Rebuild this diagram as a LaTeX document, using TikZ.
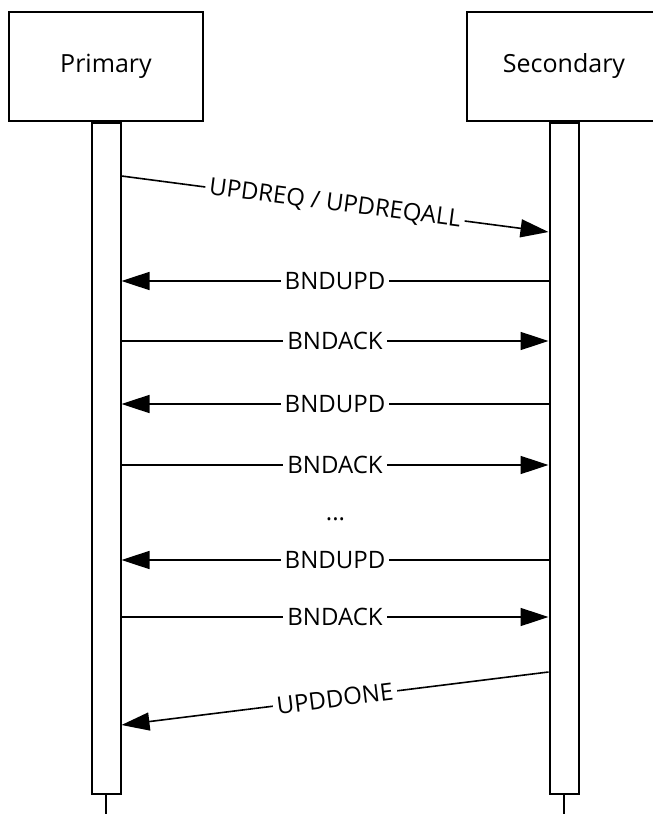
\documentclass[tikz,border=0pt]{standalone}
\usepackage{fontspec}
\setmainfont{Open Sans}
\usetikzlibrary{positioning,arrows.meta}

\begin{document}
\begin{tikzpicture}[
    x=0.5pt, y=-0.5pt,
    actor/.style={rectangle, draw, line width=1pt, minimum width=97pt, minimum height=54.5pt, font=\fontsize{12.5}{14}\selectfont},
    bar/.style={rectangle, draw, line width=1pt, minimum width=14.5pt, minimum height=335.5pt, inner sep=0pt},
    msg/.style={-{Triangle[length=14pt, width=9pt]}, line width=0.8pt},
    lbl/.style={fill=white, inner sep=2pt, font=\fontsize{12}{14}\selectfont},
    life/.style={line width=1pt, dash pattern=on 9.5pt off 5pt}
]
    \useasboundingbox (0,0) rectangle (652,823);

    \node[actor] (prim) at (106,66.5) {Primary};
    \node[actor] (sec) at (564,66.5) {Secondary};
    \node[bar, below=0pt of prim] (pbar) {};
    \node[bar, below=0pt of sec] (sbar) {};

    % lifelines below the bars
    \coordinate (pend) at (pbar.south |- 0,830);
    \coordinate (send) at (sbar.south |- 0,830);
    \draw[life] (pbar.south) -- (pend);
    \draw[life] (sbar.south) -- (send);

    % request
    \coordinate (req1) at (pbar.east |- 0,176);
    \coordinate (req2) at (sbar.west |- 0,232);
    \draw[msg] (req1) -- node[lbl, sloped] {UPDREQ / UPDREQALL} (req2);

    % bind updates and acks
    \foreach \y/\txt [count=\i] in {281/BNDUPD, 404/BNDUPD, 560/BNDUPD} {
        \coordinate (u\i) at (sbar.west |- 0,\y);
        \coordinate (v\i) at (pbar.east |- 0,\y);
        \draw[msg] (u\i) -- node[lbl] {\txt} (v\i);
    }
    \foreach \y/\txt [count=\i] in {341/BNDACK, 465/BNDACK, 617/BNDACK} {
        \coordinate (a\i) at (pbar.east |- 0,\y);
        \coordinate (b\i) at (sbar.west |- 0,\y);
        \draw[msg] (a\i) -- node[lbl] {\txt} (b\i);
    }
    \node[lbl] (dots) at (335.5,519) {...};

    % done
    \coordinate (done1) at (sbar.west |- 0,672);
    \coordinate (done2) at (pbar.east |- 0,725);
    \draw[msg] (done1) -- node[lbl, sloped] {UPDDONE} (done2);
\end{tikzpicture}
\end{document}
